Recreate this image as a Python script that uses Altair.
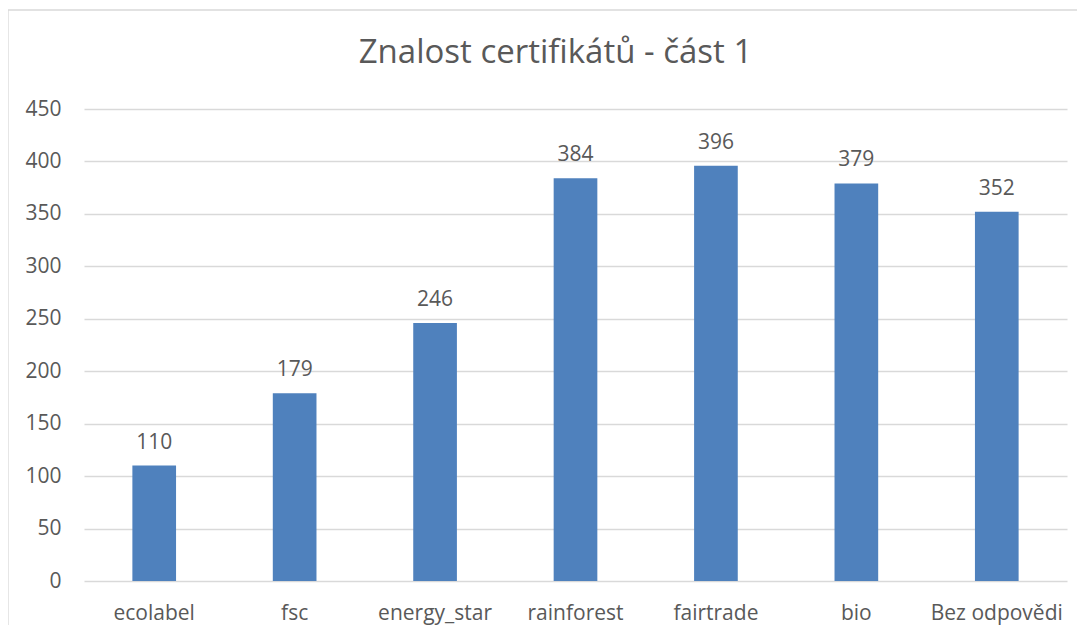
import altair as alt
import pandas as pd

categories = ["ecolabel", "fsc", "energy_star", "rainforest", "fairtrade", "bio", "Bez odpovědi"]
values = [110, 179, 246, 384, 396, 379, 352]
y_ticks = [0, 50, 100, 150, 200, 250, 300, 350, 400, 450]
title_text = "Znalost certifikátů - část 1"

df = pd.DataFrame({"cat": categories, "val": values})

FONT = "Open Sans"
TXT = "#595959"
W, H = 983, 472
FS = 21

x_enc = alt.X("cat:N", sort=categories, title=None,
              scale=alt.Scale(paddingInner=0.689, paddingOuter=0.3445),
              axis=alt.Axis(labelAngle=0, labelFontSize=FS, labelColor=TXT, labelFont=FONT,
                            ticks=False, tickSize=0, domain=False, labelBaseline="alphabetic",
                            labelPadding=38, grid=False))
y_enc = alt.Y("val:Q", title=None,
              scale=alt.Scale(domain=[0, 450], nice=False),
              axis=alt.Axis(values=y_ticks, labelFontSize=FS, labelColor=TXT, labelFont=FONT,
                            ticks=False, tickSize=0, domain=False, labelPadding=23,
                            gridColor="#d9d9d9", gridWidth=1.3, labelBaseline="middle"))

border = alt.Chart(pd.DataFrame({"b": [0]})).mark_rect(
    fill=None, stroke="#d9d9d9", strokeWidth=1.3, clip=False
).encode(x=alt.value(-76), x2=alt.value(W + 40), y=alt.value(-99), y2=alt.value(H + 100))

title = alt.Chart(pd.DataFrame({"t": [title_text]})).mark_text(
    fontSize=33, font=FONT, color=TXT, baseline="alphabetic", align="center"
).encode(x=alt.value(W / 2 - 20), y=alt.value(-46), text="t:N")

bars = alt.Chart(df).mark_bar(color="#4f81bd").encode(x=x_enc, y=y_enc)

labels = alt.Chart(df).mark_text(
    baseline="alphabetic", dy=-17, fontSize=FS, font=FONT, color=TXT
).encode(x=alt.X("cat:N", sort=categories), y=alt.Y("val:Q"), text="val:Q")

chart = alt.layer(border, title, bars, labels).properties(
    width=W, height=H,
    autosize=alt.AutoSizeParams(type="none"),
    padding={"left": 76, "top": 101, "right": 10, "bottom": 44},
).configure(background="white", view=alt.ViewConfig(stroke="transparent", strokeWidth=0))

chart.save("out.html", embed_options={"renderer": "svg", "actions": False})
